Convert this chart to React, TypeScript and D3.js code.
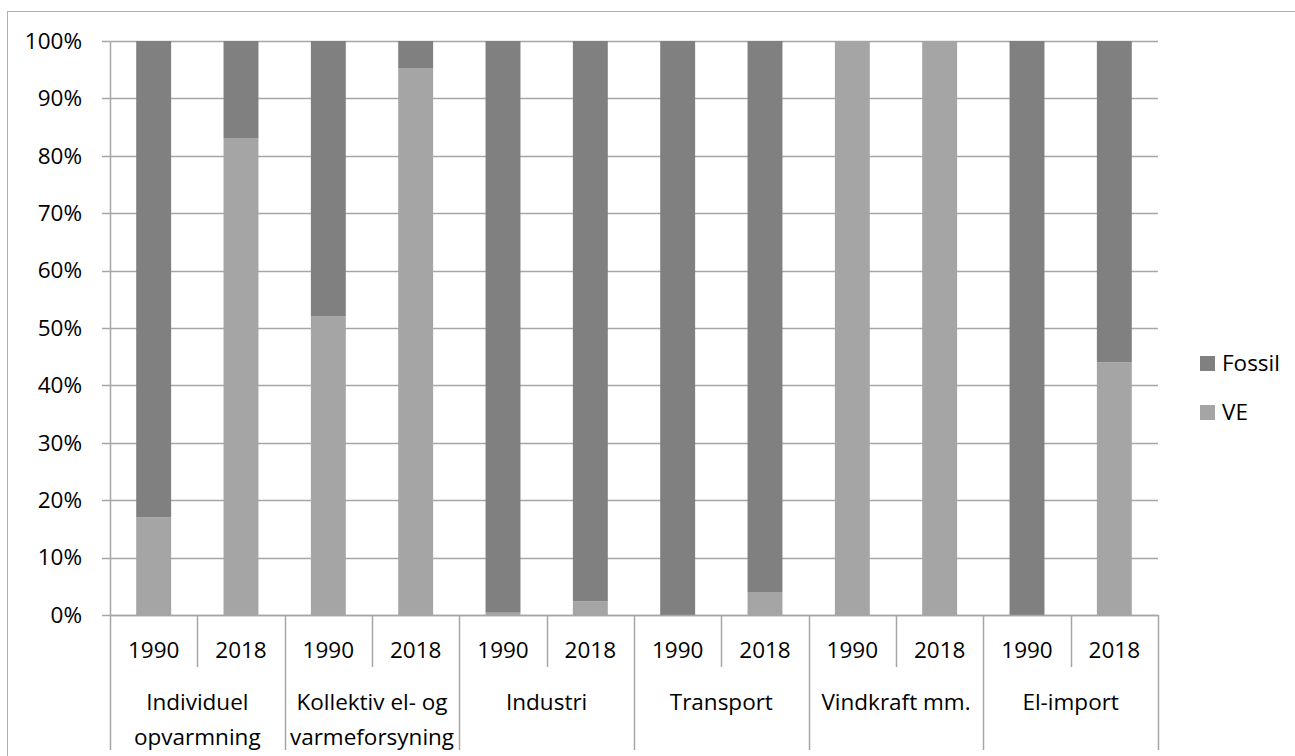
import React, { useEffect, useRef } from 'react'
import * as d3 from 'd3'

const groups = ['Individuel\nopvarmning', 'Kollektiv el- og\nvarmeforsyning', 'Industri', 'Transport', 'Vindkraft mm.', 'El-import']
const years = ['1990', '2018']
// VE share per bar (group x year), Fossil is the rest
const veValues = [17, 83, 52, 95.2, 0.4, 2.4, 0, 3.9, 100, 100, 0, 44]
const fossilValues = veValues.map(v => 100 - v)
const yTicks = [0, 10, 20, 30, 40, 50, 60, 70, 80, 90, 100]
const seriesNames = ['Fossil', 'VE']
const colors = { Fossil: '#808080', VE: '#a5a5a5' }

const App = () => {
  const svgRef = useRef<SVGSVGElement>(null)

  useEffect(() => {
    const width = 1295
    const height = 756
    const left = 110, right = 1158, top = 41, bottom = 615
    const font = '"Open Sans", sans-serif'
    const fontSize = '22.5px'
    const gridColor = '#a6a6a6'

    const svg = d3.select(svgRef.current)
      .attr('width', width)
      .attr('height', height)
      .style('display', 'block')
      .style('position', 'absolute')
      .style('left', 0)
      .style('top', 0)
    svg.selectAll('*').remove()

    // outer chart frame
    svg.append('rect')
      .attr('x', 7.5).attr('y', 11.5)
      .attr('width', width).attr('height', height)
      .attr('fill', 'white').attr('stroke', '#b0b0b0')

    const bars = groups.flatMap((g, gi) => years.map((yr, yi) => ({
      key: `${gi}-${yr}`, group: g, year: yr,
      VE: veValues[gi * 2 + yi], Fossil: fossilValues[gi * 2 + yi]
    })))

    const x = d3.scaleBand().domain(bars.map(d => d.key)).range([left, right]).paddingInner(0.6).paddingOuter(0.3)
    const xGroup = d3.scaleBand().domain(groups).range([left, right])
    const y = d3.scaleLinear().domain([0, 100]).range([bottom, top])

    // gridlines + ticks
    svg.append('g').selectAll('line')
      .data(yTicks)
      .join('line')
      .attr('x1', left - 8).attr('x2', right)
      .attr('y1', d => Math.round(y(d)) + 0.5).attr('y2', d => Math.round(y(d)) + 0.5)
      .attr('stroke', gridColor).attr('stroke-width', 1.5)

    svg.append('g').selectAll('text')
      .data(yTicks)
      .join('text')
      .attr('x', 82).attr('y', d => y(d))
      .attr('dy', '0.35em')
      .attr('text-anchor', 'end')
      .style('font-family', font).style('font-size', fontSize).attr('fill', '#000')
      .text(d => `${d}%`)

    // stacked bars
    const stack = d3.stack<any>().keys(['VE', 'Fossil'])(bars)
    svg.append('g').selectAll('g')
      .data(stack)
      .join('g')
      .attr('fill', d => colors[d.key as 'VE' | 'Fossil'])
      .selectAll('rect')
      .data(d => d)
      .join('rect')
      .attr('x', d => x(d.data.key)!)
      .attr('width', x.bandwidth())
      .attr('y', d => y(d[1]))
      .attr('height', d => y(d[0]) - y(d[1]))

    // left axis line
    svg.append('line')
      .attr('x1', left + 0.5).attr('x2', left + 0.5)
      .attr('y1', top).attr('y2', 750)
      .attr('stroke', gridColor).attr('stroke-width', 1.5)

    // bottom category axis
    const axis = svg.append('g')
    axis.append('line')
      .attr('x1', left).attr('x2', right)
      .attr('y1', bottom + 0.5).attr('y2', bottom + 0.5)
      .attr('stroke', gridColor).attr('stroke-width', 1.5)

    const step = x.step()
    bars.forEach((d, i) => {
      const cx = x(d.key)! + x.bandwidth() / 2
      axis.append('text')
        .attr('x', cx).attr('y', 650).attr('dy', '0.35em')
        .attr('text-anchor', 'middle')
        .style('font-family', font).style('font-size', fontSize)
        .text(d.year)
      if (i % 2 === 1) {
        const sx = Math.round(cx - step / 2) + 0.5
        axis.append('line')
          .attr('x1', sx).attr('x2', sx).attr('y1', bottom).attr('y2', 667)
          .attr('stroke', gridColor).attr('stroke-width', 1.5)
      }
    })

    groups.forEach((g, gi) => {
      const gx = xGroup(g)!
      const sx = Math.round(gx + xGroup.bandwidth()) + 0.5
      axis.append('line')
        .attr('x1', sx).attr('x2', sx).attr('y1', bottom).attr('y2', 750)
        .attr('stroke', gridColor).attr('stroke-width', 1.5)
      const lines = g.split('\n')
      lines.forEach((ln, li) => {
        axis.append('text')
          .attr('x', gx + xGroup.bandwidth() / 2).attr('y', 702 + li * 35).attr('dy', '0.35em')
          .attr('text-anchor', 'middle')
          .style('font-family', font).style('font-size', fontSize)
          .text(ln)
      })
    })

    // legend
    const legend = svg.append('g')
    seriesNames.forEach((s, i) => {
      const ly = 363 + i * 49
      legend.append('rect')
        .attr('x', 1200).attr('y', ly - 7).attr('width', 15).attr('height', 15)
        .attr('fill', colors[s as 'VE' | 'Fossil'])
      legend.append('text')
        .attr('x', 1222).attr('y', ly).attr('dy', '0.35em')
        .style('font-family', font).style('font-size', fontSize)
        .text(s)
    })
  }, [])

  return <svg ref={svgRef}></svg>
}

export default App
